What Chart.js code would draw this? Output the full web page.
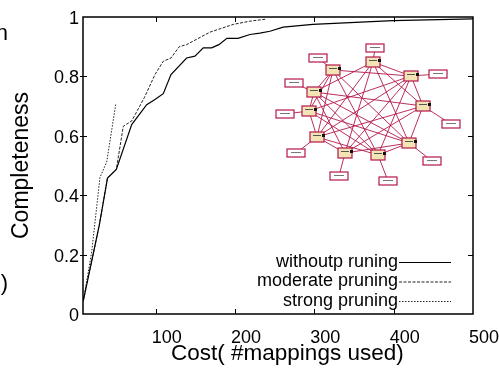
<!DOCTYPE html>
<html>
<head>
<meta charset="utf-8">
<script src="https://cdn.jsdelivr.net/npm/chart.js@4"></script>
<style>
  html, body { margin: 0; padding: 0; background: #fff; }
  #wrap { width: 499px; height: 374px; }
</style>
</head>
<body>
<div id="wrap"><canvas id="chart" width="499" height="374"></canvas></div>
<script>
/* Data */
const seriesNames = ['withoutp runing', 'moderate pruning', 'strong pruning'];

const costNone = [8.8, 29, 39.3, 50.4, 69.8, 88.7, 99.1, 109.6, 119.3, 139, 149.5, 160, 170.5, 179.7, 189.8, 203.7, 218.8, 231.4, 244, 260.7, 298, 399, 500];
const complNone = [0.045, 0.30, 0.458, 0.487, 0.638, 0.705, 0.722, 0.742, 0.806, 0.862, 0.868, 0.896, 0.896, 0.907, 0.928, 0.928, 0.941, 0.946, 0.952, 0.966, 0.975, 0.988, 0.994];

const costModerate = [8.8, 29, 39.3, 50.4, 59.2, 69.8, 86, 99.1, 109.6, 119.3, 129.7, 139, 168.4, 197.7, 218.8, 239.8];
const complModerate = [0.045, 0.30, 0.458, 0.487, 0.632, 0.65, 0.73, 0.806, 0.851, 0.862, 0.90, 0.907, 0.949, 0.975, 0.986, 0.993];

const costStrong = [8.8, 19.4, 29.8, 38.3, 49.6];
const complStrong = [0.045, 0.21, 0.46, 0.512, 0.705];

const xTicks = [100, 200, 300, 400, 500];
const yTicks = [0, 0.2, 0.4, 0.6, 0.8, 1];

const FONT = "'Liberation Sans', Arial, sans-serif";

function pts(xs, ys) {
  return xs.map((x, i) => ({ x: x, y: ys[i] }));
}

/* Frame, inward ticks, gnuplot-like key, inset graph picture */
const decor = {
  id: 'decor',
  afterDraw(chart) {
    const ctx = chart.ctx;
    const a = chart.chartArea;
    const xs = chart.scales.x, ys = chart.scales.y;
    ctx.save();
    ctx.strokeStyle = '#000';
    ctx.lineWidth = 1.5;
    ctx.strokeRect(a.left, a.top, a.right - a.left, a.bottom - a.top);

    ctx.lineWidth = 1;
    ctx.beginPath();
    xTicks.slice(0, -1).forEach(v => {
      const p = Math.round(xs.getPixelForValue(v)) + 0.5;
      ctx.moveTo(p, a.bottom); ctx.lineTo(p, a.bottom - 5);
      ctx.moveTo(p, a.top); ctx.lineTo(p, a.top + 5);
    });
    yTicks.slice(1, -1).forEach(v => {
      const p = Math.round(ys.getPixelForValue(v)) + 0.5;
      ctx.moveTo(a.left - 3, p); ctx.lineTo(a.left + 4, p);
      ctx.moveTo(a.right, p); ctx.lineTo(a.right - 5, p);
    });
    ctx.stroke();

    // key
    ctx.font = '18px ' + FONT;
    ctx.textAlign = 'right';
    ctx.textBaseline = 'middle';
    ctx.fillStyle = '#000';
    chart.data.datasets.forEach((ds, i) => {
      const y = a.bottom - 52 + i * 19.5;
      ctx.fillText(ds.label, a.right - 75, y);
      ctx.strokeStyle = ds.borderColor;
      ctx.lineWidth = 1;
      ctx.setLineDash(ds.borderDash || []);
      ctx.beginPath();
      ctx.moveTo(a.right - 74, y + 0.5);
      ctx.lineTo(a.right - 22, y + 0.5);
      ctx.stroke();
    });
    ctx.setLineDash([]);

    // inset network picture (decoration)
    const inner = [[373, 62], [333, 70], [411, 76], [314, 92], [423, 106], [309, 111], [317, 137], [409, 143], [345, 153], [378, 155]];
    const outer = [[375, 48], [318, 58], [438, 74], [294, 83], [451, 124], [285, 114], [296, 153], [432, 161], [339, 176], [388, 181]];
    ctx.strokeStyle = '#b3184a';
    ctx.lineWidth = 0.9;
    ctx.beginPath();
    for (let i = 0; i < inner.length; i++) {
      for (let j = i + 1; j < inner.length; j++) {
        if ((i + j) % 4 === 1) continue;
        ctx.moveTo(inner[i][0], inner[i][1]);
        ctx.lineTo(inner[j][0], inner[j][1]);
      }
      ctx.moveTo(inner[i][0], inner[i][1]);
      ctx.lineTo(outer[i][0], outer[i][1]);
    }
    ctx.stroke();
    outer.forEach(([x, y]) => {
      ctx.fillStyle = '#fff';
      ctx.fillRect(x - 9, y - 4, 18, 8);
      ctx.strokeStyle = '#b3184a';
      ctx.lineWidth = 1.2;
      ctx.strokeRect(x - 9, y - 4, 18, 8);
      ctx.fillStyle = '#777';
      ctx.fillRect(x - 5, y - 1, 10, 1);
    });
    inner.forEach(([x, y]) => {
      ctx.fillStyle = '#f2e4b4';
      ctx.fillRect(x - 7, y - 5, 14, 10);
      ctx.strokeStyle = '#b3184a';
      ctx.lineWidth = 1.2;
      ctx.strokeRect(x - 7, y - 5, 14, 10);
      ctx.fillStyle = '#555';
      ctx.fillRect(x - 4, y - 2, 8, 1);
      ctx.fillStyle = '#111';
      ctx.fillRect(x + 5, y - 3, 3, 3);
    });

    // cut-off text from the neighbouring figure
    ctx.fillStyle = '#000';
    ctx.textAlign = 'right';
    ctx.textBaseline = 'alphabetic';
    ctx.font = '22px ' + FONT;
    ctx.fillText('n', 8, 40);
    ctx.fillText(')', 8, 290);
    ctx.restore();
  }
};

new Chart(document.getElementById('chart'), {
  type: 'scatter',
  data: {
    datasets: [
      { label: seriesNames[0], data: pts(costNone, complNone), borderColor: '#000', borderWidth: 1.2 },
      { label: seriesNames[1], data: pts(costModerate, complModerate), borderColor: '#222', borderWidth: 1, borderDash: [3, 1.5] },
      { label: seriesNames[2], data: pts(costStrong, complStrong), borderColor: '#222', borderWidth: 1, borderDash: [1.5, 1.5] }
    ].map(d => Object.assign(d, { showLine: true, pointRadius: 0, tension: 0, fill: false }))
  },
  options: {
    responsive: false,
    animation: false,
    layout: { padding: { left: 0, top: 17, right: 26, bottom: 0 } },
    plugins: { legend: { display: false }, tooltip: { enabled: false } },
    scales: {
      x: {
        type: 'linear', min: 8.4, max: 500,
        afterBuildTicks: s => { s.ticks = xTicks.map(v => ({ value: v })); },
        afterFit: s => { s.height = 60; },
        grid: { display: true, color: 'rgba(0,0,0,0)', drawOnChartArea: false, drawTicks: true, tickLength: 3 },
        border: { display: false },
        ticks: { color: '#000', font: { family: FONT, size: 18 }, padding: 10, labelOffset: 11, maxRotation: 0 },
        title: { display: true, text: '   Cost( #mappings used)', color: '#000', font: { family: FONT, size: 22.5 }, padding: { top: 0, bottom: 7 } }
      },
      y: {
        min: 0, max: 1,
        afterBuildTicks: s => { s.ticks = yTicks.map(v => ({ value: v })); },
        afterFit: s => { s.width = 83; },
        grid: { display: false, drawTicks: false },
        border: { display: false },
        ticks: { color: '#000', font: { family: FONT, size: 18 }, padding: 4, labelOffset: 2, callback: v => String(+v.toFixed(1)) },
        title: { display: true, text: 'Completeness', color: '#000', font: { family: FONT, size: 23 }, padding: { top: 8, bottom: 0 } }
      }
    }
  },
  plugins: [decor]
});
</script>
</body>
</html>
